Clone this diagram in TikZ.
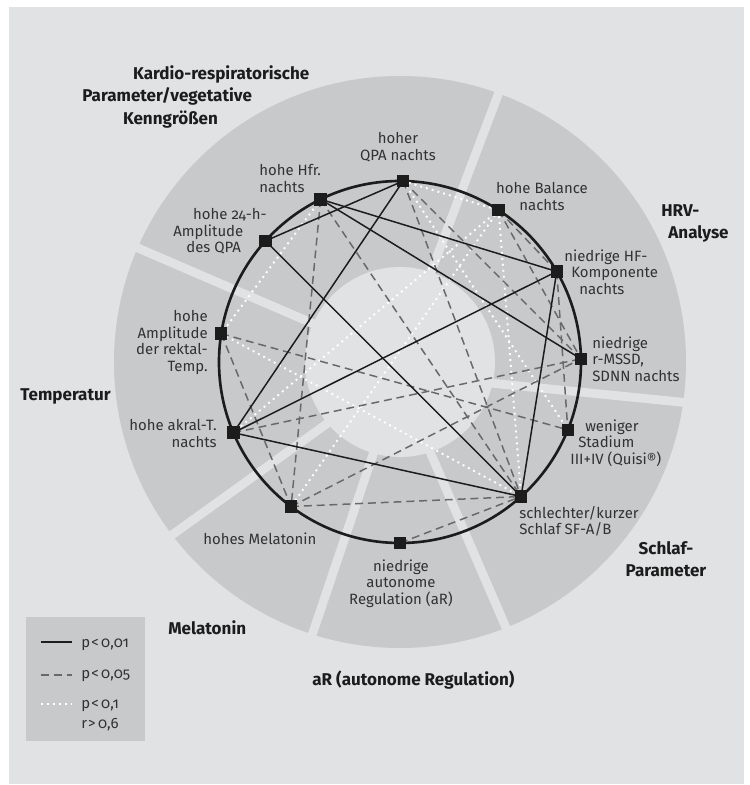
\documentclass[tikz,border=0pt]{standalone}
\usepackage{fontspec}
\setmainfont{Fira Sans}[Numbers=OldStyle]
\definecolor{bgGrey}{RGB}{225,226,228}
\definecolor{ringGrey}{RGB}{200,201,203}
\definecolor{dashGrey}{RGB}{105,105,105}
\definecolor{ink}{RGB}{28,28,28}
\definecolor{txt}{RGB}{50,50,50}
\pgfdeclarelayer{bg}
\pgfdeclarelayer{edges}
\pgfsetlayers{bg,edges,main}
\begin{document}
\begin{tikzpicture}[x=0.02cm,y=0.02cm,
    sq/.style={rectangle,fill=ink,minimum size=0.25cm,inner sep=0pt},
    lbl/.style={font=\fontsize{8.5}{9.4}\selectfont,text=txt,inner sep=0pt},
    cat/.style={font=\fontsize{9.7}{12.8}\selectfont\bfseries,text=ink,inner sep=0pt},
    p01/.style={ink,line width=0.85pt},
    p05/.style={dashGrey,line width=0.85pt,dash pattern=on 4.5pt off 2.8pt},
    p10/.style={white,line width=1.1pt,dash pattern=on 1.1pt off 2.3pt},
    gap/.style={bgGrey,line width=5pt}]
\useasboundingbox (-400,-423) rectangle (350,362);
\begin{pgfonlayer}{bg}
    \fill[bgGrey] (-391,-422) rectangle (344,355);
    \fill[ringGrey] (0,0) circle (286);
    \draw[gap] (25,74) -- (118,320);
    \draw[gap] (70,-19) -- (320,-44);
    \draw[gap] (15,-55) -- (120,-298);
    \draw[gap] (-10,-42) -- (-100,-309);
    \draw[gap] (-29,-30) -- (-274,-206);
    \draw[gap] (-28,13) -- (-290,126);
    \fill[bgGrey] (0,0) circle (95);
    \fill[ringGrey] (-374,-255) rectangle (-255,-379);
\end{pgfonlayer}

\node[sq] (A) at (89:181) {};
\node[sq] (B) at (116:181) {};
\node[sq] (C) at (138:181) {};
\node[sq] (D) at (171:181) {};
\node[sq] (E) at (203:181) {};
\node[sq] (F) at (233:181) {};
\node[sq] (G) at (270:181) {};
\node[sq] (H) at (312:181) {};
\node[sq] (I) at (338:181) {};
\node[sq] (J) at (1:181) {};
\node[sq] (K) at (30:181) {};
\node[sq] (L) at (57:181) {};

\begin{pgfonlayer}{edges}
    \draw[ink,line width=1.5pt] (0,0) circle (181);
    \foreach \a/\b in {A/L,L/E,L/F,L/H,B/D,D/H,A/I}
        \draw[p10] (\a.center) -- (\b.center);
    \foreach \a/\b in {A/H,A/J,B/H,B/F,D/I,D/F,E/J,F/J,F/H,G/H,K/I,L/K,L/J}
        \draw[p05] (\a.center) -- (\b.center);
    \foreach \a/\b in {A/C,A/E,B/K,B/J,C/H,E/H,H/K,E/K}
        \draw[p01] (\a.center) -- (\b.center);
\end{pgfonlayer}

\node[lbl,align=center,anchor=north] (tA) at (-2,230) {hoher\\QPA nachts};
\node[lbl,align=left,anchor=north west] (tB) at (-141,198) {hohe Hfr.\\nachts};
\node[lbl,align=left,anchor=north west] (tC) at (-227,154)
    {\hspace*{11.3pt}hohe 24-h-\\Amplitude\\\hspace*{7.4pt}des QPA};
\node[lbl,align=right,anchor=north east] (tD) at (-192,52)
    {hohe\\Amplitude\\der rektal-\\Temp.};
\node[lbl,align=right,anchor=north east] (tE) at (-183,-57) {hohe akral-T.\\nachts};
\node[lbl,anchor=north west] (tF) at (-197,-170) {hohes Melatonin};
\node[lbl,align=center,anchor=north] (tG) at (1,-197)
    {niedrige\\autonome\\Regulation (aR)};
\node[lbl,align=left,anchor=north west] (tH) at (119,-144)
    {schlechter/kurzer\\Schlaf SF-A/B};
\node[lbl,align=left,anchor=north west] (tI) at (170,-57)
    {\hspace*{8.5pt}weniger\\\hspace*{4.5pt}Stadium\\III+IV (Quisi®)};
\node[lbl,align=left,anchor=north west] (tJ) at (192,26)
    {niedrige\\r-MSSD,\\SDNN nachts};
\node[lbl,align=left,anchor=north west] (tK) at (164,113)
    {niedrige HF-\\\hspace*{4pt}Komponente\\\hspace*{8.5pt}nachts};
\node[lbl,align=center,anchor=north] (tL) at (142,180) {hohe Balance\\nachts};

\node[cat,align=left,anchor=north west] (kardio) at (-318,297)
    {\hspace*{28.9pt}Kardio-respiratorische\\Parameter/vegetative\\\hspace*{23.2pt}Kenngrößen};
\node[cat,align=left,anchor=north west] (hrv) at (261,158) {HRV-\\\hspace*{4pt}Analyse};
\node[cat,anchor=north west] (temp) at (-380,-26) {Temperatur};
\node[cat,anchor=north west] (mela) at (-232,-258) {Melatonin};
\node[cat,anchor=north west] (ar) at (-88,-309) {aR (autonome Regulation)};
\node[cat,align=center,anchor=north] (schlaf) at (266,-179) {Schlaf-\\Parameter};

\draw[p01] (-359,-280) -- (-328,-280);
\draw[p05] (-359,-313) -- (-328,-313);
\draw[p10] (-359,-342) -- (-328,-342);
\node[lbl,anchor=base west] (l01) at (-319,-285) {p\kern0.6pt<\,0,01};
\node[lbl,anchor=base west] (l05) at (-319,-316) {p\kern0.6pt<\,0,05};
\node[lbl,anchor=base west] (l10) at (-319,-346) {p\kern0.6pt<\,0,1};
\node[lbl,anchor=base west] (lr) at (-319,-366) {r\kern0.6pt>\,0,6};
\end{tikzpicture}
\end{document}
